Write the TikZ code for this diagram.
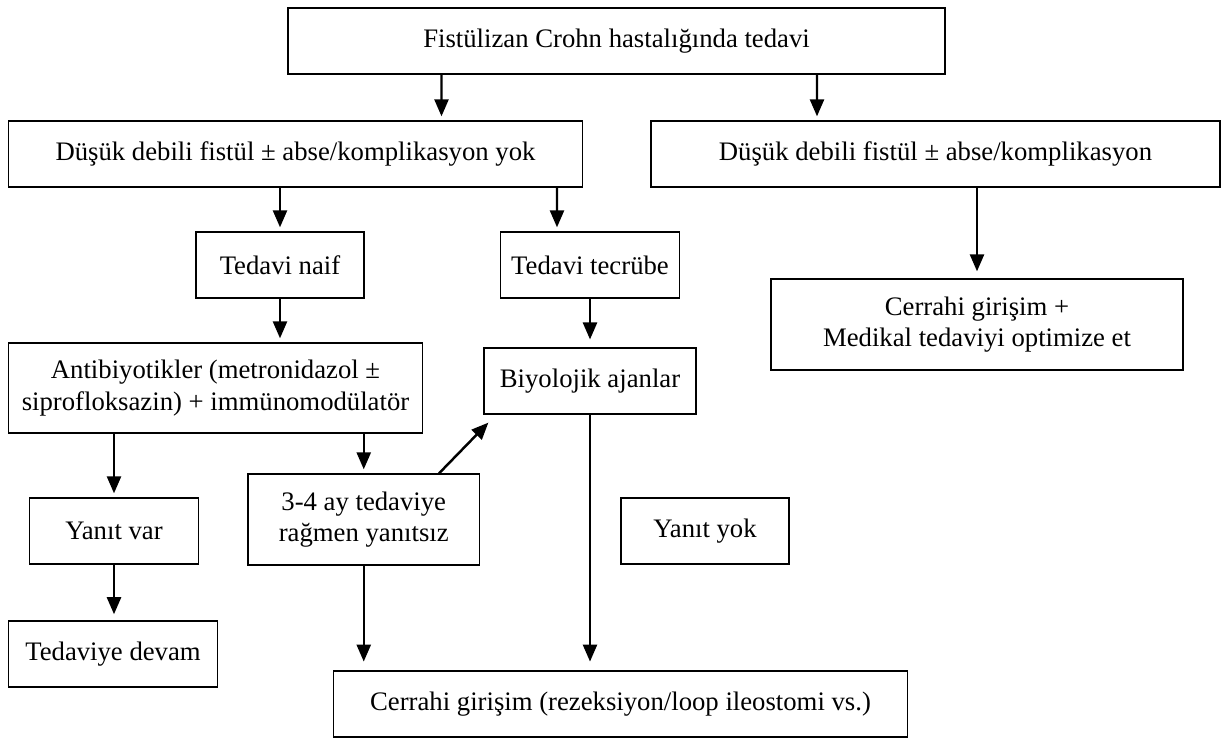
\documentclass[tikz,border=0pt]{standalone}
\usepackage{fontspec}
\setmainfont{Liberation Serif}
\usetikzlibrary{arrows.meta}

\begin{document}
\begin{tikzpicture}[
  box/.style={rectangle, draw, line width=0.7pt, align=center, font=\fontsize{15.2}{18}\selectfont, inner sep=2pt, minimum height=1.32cm},
  arrow/.style={-{Triangle[length=3.4mm, width=2.8mm]}, line width=1.4pt, shorten >=2.3pt},
]
\useasboundingbox (0,0) rectangle (24.46,14.8);

% === UPPER LEVELS ===
\node[box, minimum width=13.14cm] (top) at (12.33, 13.98) {Fistülizan Crohn hastalığında tedavi};
\node[box, minimum width=11.49cm] (low) at (5.91, 11.72) {Düşük debili fistül ± abse/komplikasyon yok};
\node[box, minimum width=11.38cm] (high) at (18.71, 11.72) {Düşük debili fistül ± abse/komplikasyon};
\node[box, minimum width=3.36cm] (naif) at (5.60, 9.50) {Tedavi naif};
\node[box, minimum width=3.57cm] (tecrube) at (11.80, 9.50) {Tedavi tecrübe};
\node[box, minimum width=8.24cm, minimum height=1.82cm] (cerrahi1) at (19.54, 8.31) {Cerrahi girişim +\\Medikal tedaviyi optimize et};

% === TREATMENT ===
\node[box, minimum width=8.29cm, minimum height=1.80cm] (anti) at (4.31, 7.04) {Antibiyotikler (metronidazol ±\\siprofloksazin) + immünomodülatör};
\node[box, minimum width=4.24cm] (biyo) at (11.80, 7.18) {Biyolojik ajanlar};
\node[box, minimum width=3.37cm] (var) at (2.28, 4.18) {Yanıt var};
\node[box, minimum width=4.63cm, minimum height=1.82cm] (ucdort) at (7.275, 4.41) {3-4 ay tedaviye\\rağmen yanıtsız};
\node[box, minimum width=3.36cm] (yok) at (14.10, 4.18) {Yanıt yok};
\node[box, minimum width=4.19cm] (devam) at (2.26, 1.72) {Tedaviye devam};
\node[box, minimum width=11.48cm] (cerrahi2) at (12.41, 0.72) {Cerrahi girişim (rezeksiyon/loop ileostomi vs.)};

\draw[arrow] ([xshift=-3.50cm]top.south) -- ([xshift=2.92cm]low.north);
\draw[arrow] ([xshift=4.01cm]top.south) -- ([xshift=-2.37cm]high.north);
\draw[arrow] (low.south -| naif.north) -- (naif.north);
\draw[arrow] ([xshift=5.23cm]low.south) -- ([xshift=-0.66cm]tecrube.north);
\draw[arrow, shorten >=4pt] (high.south -| cerrahi1.north) -- (cerrahi1.north);
\draw[arrow] (naif.south) -- (naif.south |- anti.north);
\draw[arrow, shorten >=4.5pt] (tecrube.south) -- (biyo.north);
\draw[arrow] (anti.south -| var.north) -- (var.north);
\draw[arrow] (anti.south -| ucdort.north) -- (ucdort.north);
\draw[arrow, shorten >=3.5pt] (var.south) -- (var.south |- devam.north);
\draw[arrow, shorten >=5pt] (ucdort.south) -- (ucdort.south |- cerrahi2.north);
\draw[arrow, shorten >=5pt] (biyo.south) -- (biyo.south |- cerrahi2.north);
\draw[arrow, shorten >=0pt] ([xshift=1.505cm]ucdort.north) -- ([shift={(0.10,-0.16)}]biyo.south west);
\end{tikzpicture}
\end{document}
